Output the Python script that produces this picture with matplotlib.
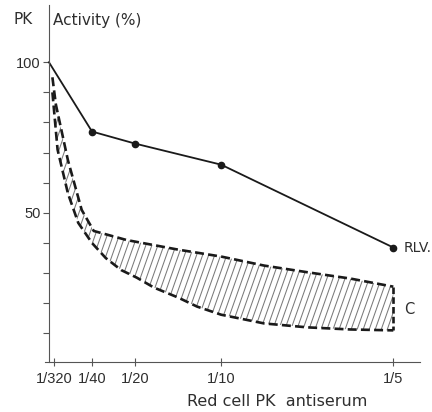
import numpy as np
import matplotlib
matplotlib.use('Agg')
import matplotlib.pyplot as plt
from matplotlib.patches import Polygon

# 항체 희석 배수 (x축 눈금)
tick_vals = [1/320, 1/40, 1/20, 1/10, 1/5]
tick_labels = ['1/320', '1/40', '1/20', '1/10', '1/5']

# RLV 곡선 (첫 점은 항체 없음 = 100%)
rlv_x = [0, 1/40, 1/20, 1/10, 1/5]
rlv_y = [100, 77, 73, 66, 38.5]

# C 영역 (위/아래 경계)
c_up_x = [0.002, 0.004, 0.011, 0.019, 0.026, 0.045, 0.075, 0.1, 0.125, 0.15, 0.175, 0.2]
c_up_y = [95, 86, 67.5, 51, 44, 41, 37.8, 35.5, 32.5, 30.3, 28.2, 25.5]
c_lo_x = [0.002, 0.005, 0.011, 0.017, 0.025, 0.033, 0.042, 0.051, 0.061, 0.075, 0.086, 0.1, 0.125, 0.15, 0.175, 0.2]
c_lo_y = [90, 71, 56.5, 46.7, 40, 35, 31, 28.5, 25.2, 21.9, 18.9, 16.2, 13.3, 12, 11.3, 11]

plt.rcParams['font.family'] = ['Liberation Sans', 'DejaVu Sans']
ink = '#2e2e2e'
word_font = ['DejaVu Sans']

fig = plt.figure(figsize=(4.32, 4.12), dpi=100)
ax = fig.add_axes([45/432, 50/412, 375/432, 357/412])
ax.set_xlim(-0.0023, 0.2155)
ax.set_ylim(0.5, 119)

# 축 스타일
for s in ['top', 'right']:
    ax.spines[s].set_visible(False)
ax.spines['left'].set_position(('data', 0))
for s in ['left', 'bottom']:
    ax.spines[s].set_color('#555555')
    ax.spines[s].set_linewidth(0.8)

ax.set_xticks(tick_vals)
ax.set_xticklabels(tick_labels)
ax.set_yticks([50, 100])
ax.set_yticks(np.arange(10, 100, 10), minor=True)
ax.tick_params(axis='y', which='both', direction='out', length=4, width=0.8,
               color='#555555', labelsize=10.5, labelcolor=ink, pad=2)
ax.tick_params(axis='x', direction='inout', length=6, width=0.8,
               color='#555555', labelsize=10.5, labelcolor=ink, pad=4)

# C 영역 빗금
poly_pts = list(zip(c_up_x, c_up_y)) + list(zip(c_lo_x[::-1], c_lo_y[::-1]))
poly = Polygon(poly_pts, closed=True, facecolor='none', edgecolor='none')
ax.add_patch(poly)
for x0 in np.arange(-0.08, 0.21, 0.0035):
    ln, = ax.plot([x0, x0 + 0.0742], [0, 120], color='#7a7a7a', lw=0.75)
    ln.set_clip_path(poly)

dash = (3.4, 1.6)
ax.plot(c_up_x, c_up_y, color='#1a1a1a', lw=1.9, dashes=dash)
ax.plot(c_lo_x, c_lo_y, color='#1a1a1a', lw=1.9, dashes=dash)
ax.plot([c_up_x[-1], c_lo_x[-1]], [c_up_y[-1], c_lo_y[-1]], color='#1a1a1a', lw=1.9, dashes=(2.5, 1.2))

# RLV 곡선
ax.plot(rlv_x, rlv_y, color='#1a1a1a', lw=1.3)
ax.plot(rlv_x[1:], rlv_y[1:], 'o', color='#1a1a1a', ms=4.5)

ax.text(0.2058, 38.5, 'RLV.', fontsize=10, color=ink, ha='left', va='center', family=word_font)
ax.text(0.2065, 18, 'C', fontsize=10.5, color=ink, ha='left', va='center', family=word_font)

fig.text(23/432, 1 - 20/412, 'PK', fontsize=11, color=ink, ha='center', va='center', family=word_font)
fig.text(53/432, 1 - 20/412, 'Activity (%)', fontsize=11, color=ink, ha='left', va='center', family=word_font)
fig.text(277/432, 1 - 402/412, 'Red cell PK  antiserum', fontsize=11.5, color=ink, ha='center', va='center',
         family=word_font)

fig.savefig('out.png', dpi=100)
